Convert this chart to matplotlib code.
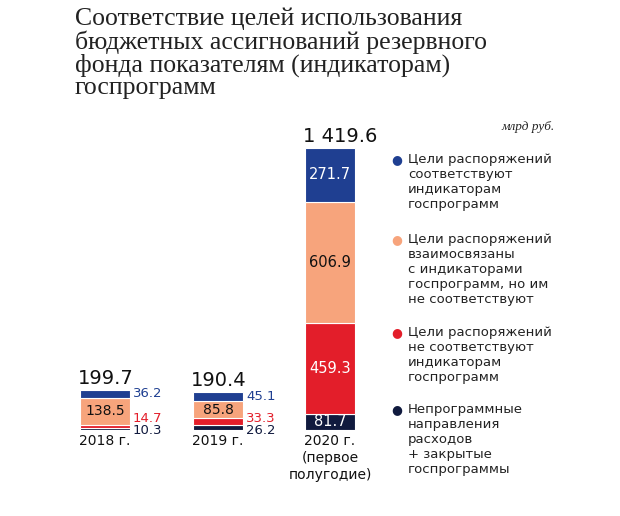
import matplotlib
matplotlib.use("Agg")
import matplotlib.pyplot as plt

years = ["2018 г.", "2019 г.", "2020 г.\n(первое\nполугодие)"]
totals = ["199.7", "190.4", "1 419.6"]
nonprog = [10.3, 26.2, 81.7]
notmatch = [14.7, 33.3, 459.3]
related = [138.5, 85.8, 606.9]
match = [36.2, 45.1, 271.7]
legend_labels = ["Цели распоряжений\nсоответствуют\nиндикаторам\nгоспрограмм",
                 "Цели распоряжений\nвзаимосвязаны\nс индикаторами\nгоспрограмм, но им\nне соответствуют",
                 "Цели распоряжений\nне соответствуют\nиндикаторам\nгоспрограмм",
                 "Непрограммные\nнаправления\nрасходов\n+ закрытые\nгоспрограммы"]
colors = ["#1f3f91", "#f7a47c", "#e31e2a", "#101a3e"]

W, H = 620, 516
fig = plt.figure(figsize=(6.2, 5.16), dpi=100)
bottom_px, top_px = 430, 148
ax = fig.add_axes([0, (H - bottom_px) / H, 1, (bottom_px - top_px) / H])
ax.set_xlim(0, W)
ax.set_ylim(0, 1419.6)
ax.axis("off")

xs = [105, 218, 330]
series = [nonprog, notmatch, related, match]
scol = [colors[3], colors[2], colors[1], colors[0]]
for i, x in enumerate(xs):
    b = 0
    for s, c in zip(series, scol):
        ax.bar(x, s[i], width=50, bottom=b, color=c, edgecolor="white", linewidth=0.8)
        b += s[i]
    ax.text(x - 27, b + 12, totals[i], ha="left", va="bottom", fontsize=14, color="#111")
    ax.text(x, -18, years[i], ha="center", va="top", fontsize=10, color="#111", linespacing=1.3)

for i in range(2):
    x = xs[i] + 28
    ax.text(x, -5, f"{nonprog[i]}", ha="left", va="center", fontsize=9.5, color=colors[3])
    ax.text(x, 60, f"{notmatch[i]}", ha="left", va="center", fontsize=9.5, color=colors[2])
    top = nonprog[i] + notmatch[i] + related[i]
    ax.text(x, top + match[i] / 2, f"{match[i]}", ha="left", va="center", fontsize=9.5, color=colors[0])
    ax.text(xs[i], nonprog[i] + notmatch[i] + related[i] / 2, f"{related[i]}", ha="center", va="center", fontsize=10, color="#111")
b = 0
for s, tc in zip(series, ["white", "white", "#111", "white"]):
    ax.text(xs[2], b + s[2] / 2, f"{s[2]}", ha="center", va="center", fontsize=10.5, color=tc)
    b += s[2]

fig.text(75 / W, 1 - 8 / H,
         "Соответствие целей использования\nбюджетных ассигнований резервного\nфонда показателям (индикаторам)\nгоспрограмм",
         ha="left", va="top", fontsize=18.5, family="Liberation Serif", color="#222", linespacing=1.0)
fig.text(555 / W, 1 - 127 / H, "млрд руб.", ha="right", va="center", fontsize=9.5,
         family="Liberation Serif", style="italic", color="#222")

ly = [160, 240, 333, 410]
for y, lab, c in zip(ly, legend_labels, colors):
    fig.text(397 / W, 1 - y / H, "●", ha="center", va="center", fontsize=9, color=c)
    fig.text(408 / W, 1 - (y - 7) / H, lab, ha="left", va="top", fontsize=9.5, color="#222", linespacing=1.2)

fig.savefig("out.png", dpi=100, facecolor="white")
